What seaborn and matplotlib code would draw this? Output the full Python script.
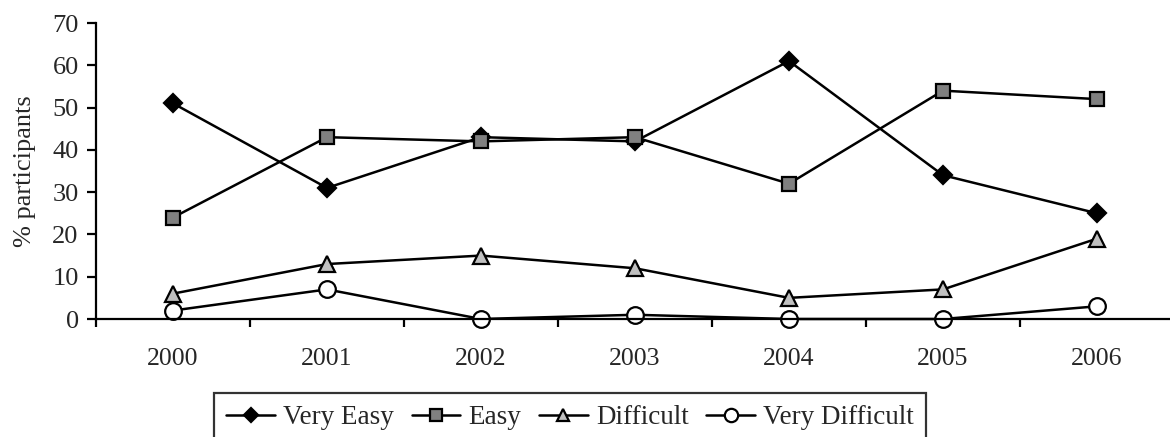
import matplotlib
matplotlib.use('Agg')
import matplotlib.pyplot as plt
import pandas as pd
import seaborn as sns
from matplotlib.ticker import MultipleLocator, FixedLocator

# data
years = [2000, 2001, 2002, 2003, 2004, 2005, 2006]
very_easy = [51, 31, 43, 42, 61, 34, 25]
easy = [24, 43, 42, 43, 32, 54, 52]
difficult = [6, 13, 15, 12, 5, 7, 19]
very_difficult = [2, 7, 0, 1, 0, 0, 3]

series = ['Very Easy', 'Easy', 'Difficult', 'Very Difficult']

df = pd.DataFrame({'year': years * 4,
                   'value': very_easy + easy + difficult + very_difficult,
                   'series': [s for s in series for _ in years]})

sns.set_style('white')
plt.rcParams['font.family'] = ['Liberation Serif', 'DejaVu Serif']

fig = plt.figure(figsize=(11.7, 4.37), dpi=100)
ax = fig.add_axes([96 / 1170, 118 / 437, 1078 / 1170, 296 / 437])

styles = {
    'Very Easy': dict(marker='D', markerfacecolor='black', markersize=9),
    'Easy': dict(marker='s', markerfacecolor='#808080', markersize=10),
    'Difficult': dict(marker='^', markerfacecolor='#c0c0c0', markersize=11),
    'Very Difficult': dict(marker='o', markerfacecolor='white', markersize=12),
}

for s in series:
    sns.lineplot(data=df[df['series'] == s], x='year', y='value', ax=ax,
                 color='black', linewidth=1.8, label=s,
                 markeredgecolor='black', markeredgewidth=1.6,
                 clip_on=False, **styles[s])

ax.set_xlim(1999.5, 2006.5)
ax.set_ylim(0, 70)
ax.yaxis.set_major_locator(MultipleLocator(10))
ax.xaxis.set_major_locator(FixedLocator(years))
ax.xaxis.set_minor_locator(FixedLocator([y - 0.5 for y in years] + [2006.5]))
ax.set_xticklabels([str(y) for y in years])

for sp in ['top', 'right']:
    ax.spines[sp].set_visible(False)
for sp in ['left', 'bottom']:
    ax.spines[sp].set_color('black')
    ax.spines[sp].set_linewidth(1.6)

ax.tick_params(axis='y', which='major', direction='out', length=6.5, width=1.6,
               color='black', labelsize=19, pad=6, left=True)
ax.tick_params(axis='x', which='major', length=0, labelsize=18.5, pad=21)
ax.tick_params(axis='x', which='minor', direction='out', length=6, width=1.6,
               color='black', bottom=True)

ax.set_xlabel('')
ax.set_ylabel('% participants', fontsize=19)
ax.yaxis.set_label_coords(-0.056, 0.5)

ax.legend_.remove()
handles, labels = ax.get_legend_handles_labels()
leg = fig.legend(handles, labels, ncol=4, loc='upper center',
                 bbox_to_anchor=(570 / 1170, 44 / 437), fontsize=19.5,
                 frameon=True, fancybox=False, handlelength=1.8,
                 handletextpad=0.3, columnspacing=0.65, borderpad=0.45,
                 borderaxespad=0, markerscale=0.8)
leg.get_frame().set_edgecolor('black')
leg.get_frame().set_linewidth(1.6)

fig.savefig('out.png', dpi=100)
